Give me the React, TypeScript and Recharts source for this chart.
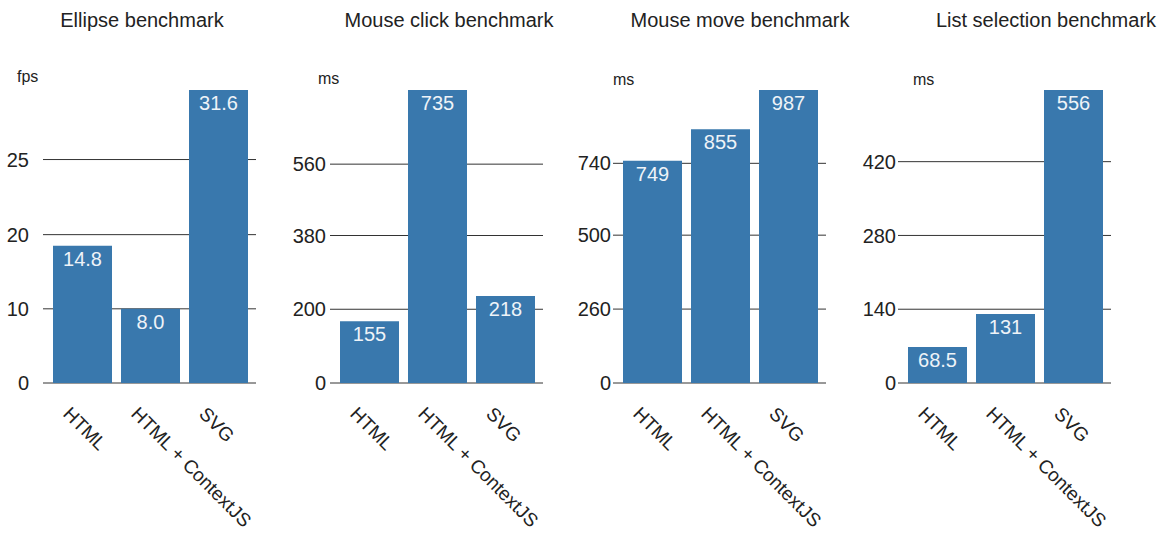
// App.tsx
// 四个基准测试柱状图 — Ellipse / Mouse click / Mouse move / List selection

import { BarChart, Bar, XAxis, YAxis, CartesianGrid, LabelList } from 'recharts';

const categories = ['HTML', 'HTML + ContextJS', 'SVG'];

const titles = ['Ellipse benchmark', 'Mouse click benchmark', 'Mouse move benchmark', 'List selection benchmark'];
const units = ['fps', 'ms', 'ms', 'ms'];

const ellipseValues = [14.8, 8.0, 31.6];
const clickValues = [155, 735, 218];
const moveValues = [749, 855, 987];
const listValues = [68.5, 131, 556];

// tick positions (in data units, as drawn) and the labels printed next to them
const ellipseTickAt = [0, 8, 16, 24.1];
const ellipseTickText = ['0', '10', '20', '25'];
const clickTickAt = [0, 185, 370, 549];
const clickTickText = ['0', '200', '380', '560'];
const moveTickAt = [0, 249, 498, 740];
const moveTickText = ['0', '260', '500', '740'];
const listTickAt = [0, 140, 280, 420];
const listTickText = ['0', '140', '280', '420'];

const FONT = '"Liberation Sans", Arial, Helvetica, sans-serif';
const BAR = '#3978ad';
const INK = '#222';

const panels = [
  { values: ellipseValues, tickAt: ellipseTickAt, tickText: ellipseTickText, left: 0, tickGap: 14, unitX: 17, unitY: 82, titleX: 142 },
  { values: clickValues, tickAt: clickTickAt, tickText: clickTickText, left: 287, tickGap: 4, unitX: 318, unitY: 84, titleX: 449 },
  { values: moveValues, tickAt: moveTickAt, tickText: moveTickText, left: 570, tickGap: 2, unitX: 613, unitY: 85, titleX: 740 },
  { values: listValues, tickAt: listTickAt, tickText: listTickText, left: 855, tickGap: 2, unitX: 913, unitY: 85, titleX: 1046 },
];

const fmt = (v: number) => (v < 10 ? v.toFixed(1) : String(v));

function XTick(props: any) {
  const { x, y, payload } = props;
  return (
    <text
      transform={`translate(${x - 20},${y + 32}) rotate(45)`}
      textAnchor="start"
      fontSize={19}
      fontFamily={FONT}
      fill={INK}
    >
      {payload.value}
    </text>
  );
}

function ValueLabel(props: any) {
  const { x, y, width, value } = props;
  return (
    <text x={x + width / 2} y={y + 20} textAnchor="middle" fontSize={20} fontFamily={FONT} fill="#eef3f8">
      {fmt(value)}
    </text>
  );
}

function Panel({ p }: { p: (typeof panels)[number] }) {
  const data = categories.map((name, i) => ({ name, v: p.values[i] }));
  const max = Math.max(...p.values);
  return (
    <div style={{ position: 'absolute', left: p.left, top: 0 }}>
      <BarChart width={285} height={545} data={data} margin={{ top: 90, right: 29, bottom: 132, left: 0 }}>
        <CartesianGrid vertical={false} stroke="#333" strokeWidth={1} horizontalValues={p.tickAt} />
        <XAxis
          dataKey="name"
          axisLine={false}
          tickLine={false}
          tickSize={0}
          tickMargin={0}
          height={30}
          interval={0}
          padding={{ left: 5, right: 4 }}
          tick={<XTick />}
        />
        <YAxis
          type="number"
          width={43}
          domain={[0, max]}
          ticks={p.tickAt}
          interval={0}
          axisLine={false}
          tickLine={false}
          tickSize={0}
          tickMargin={p.tickGap}
          tickFormatter={(v: number) => p.tickText[p.tickAt.indexOf(v)] ?? ''}
          tick={{ fontSize: 20, fontFamily: FONT, fill: INK }}
        />
        <Bar dataKey="v" fill={BAR} barSize={59} isAnimationActive={false}>
          <LabelList dataKey="v" content={<ValueLabel />} />
        </Bar>
      </BarChart>
    </div>
  );
}

export default function App() {
  return (
    <div style={{ position: 'absolute', left: 0, top: 0, width: 1169, height: 545, background: '#fff', fontFamily: FONT }}>
      {panels.map((p, i) => (
        <Panel key={i} p={p} />
      ))}
      <svg width={1169} height={545} style={{ position: 'absolute', left: 0, top: 0, pointerEvents: 'none' }}>
        {panels.map((p, i) => (
          <g key={i}>
            <text x={p.titleX} y={27} textAnchor="middle" fontSize={20} fontFamily={FONT} fill={INK}>
              {titles[i]}
            </text>
            <text x={p.unitX} y={p.unitY} fontSize={16} fontFamily={FONT} fill={INK}>
              {units[i]}
            </text>
          </g>
        ))}
      </svg>
    </div>
  );
}
